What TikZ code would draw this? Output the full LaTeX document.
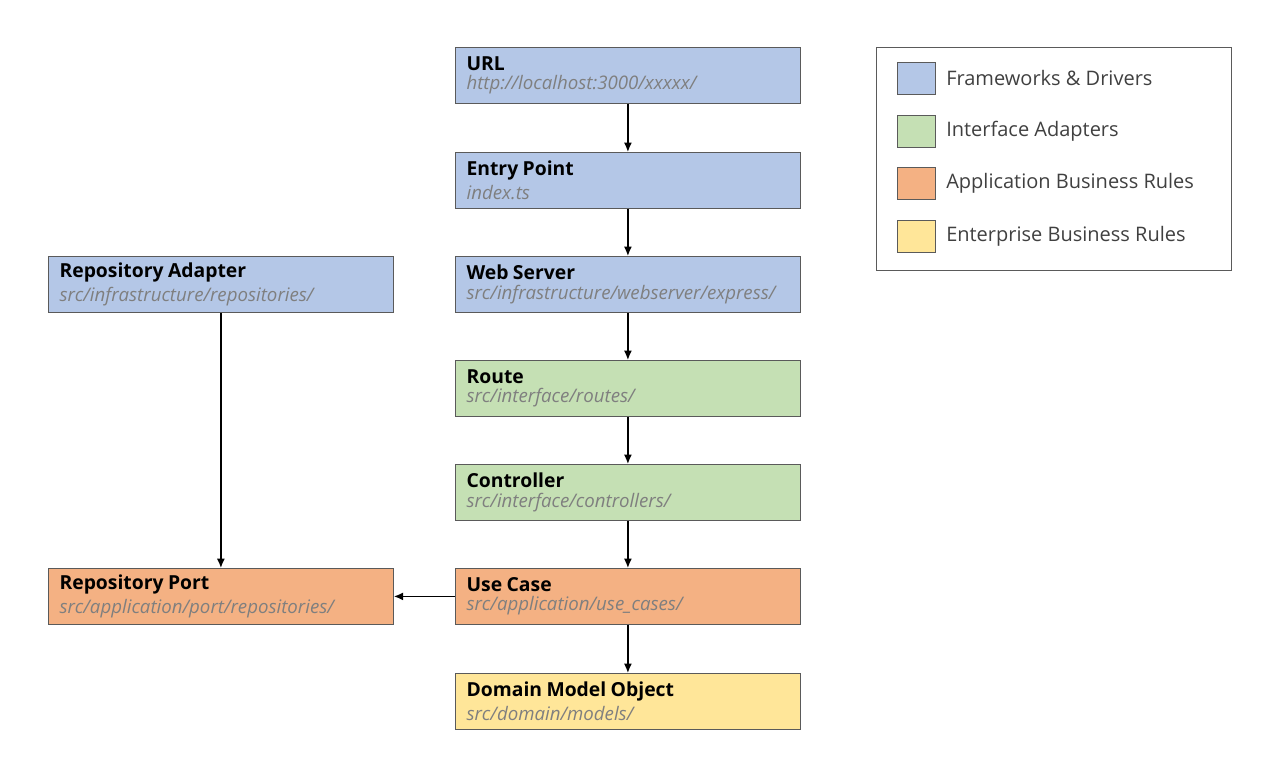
\documentclass[tikz,border=0pt]{standalone}
\usepackage{fontspec}
\setmainfont{Open Sans}
\usetikzlibrary{arrows.meta}
\definecolor{fwblue}{HTML}{B4C7E7}
\definecolor{iagreen}{HTML}{C5E0B4}
\definecolor{aborange}{HTML}{F4B183}
\definecolor{ebyellow}{HTML}{FFE699}
\definecolor{edgegray}{HTML}{5A5A5A}
\definecolor{subgray}{HTML}{7F7F7F}
\definecolor{keygray}{HTML}{404040}
\newcommand{\layertext}[2]{{\fontsize{14.5}{16}\selectfont\bfseries #1}\\[2.5pt]{\fontsize{14}{14}\selectfont\itshape\color{subgray}#2}}
\begin{document}
\begin{tikzpicture}[x=0.75pt, y=-0.75pt,
    layer/.style={shape=rectangle, draw=edgegray, line width=0.6pt, anchor=north west, minimum width=258.75pt, minimum height=42pt, text width=242pt, inner xsep=8pt, align=left},
    swatch/.style={shape=rectangle, draw=edgegray, line width=0.6pt, anchor=west, minimum width=28.5pt, minimum height=24pt},
    keytext/.style={anchor=west, inner sep=0pt, text=keygray, font=\fontsize{15}{16}\selectfont},
    flow/.style={-{Latex[length=7pt, width=6pt]}, line width=1.1pt}]
    \useasboundingbox (0,0) rectangle (1280,761);
    % Paths, nodes and wires:
    \node[layer, fill=fwblue] (url) at (455,47) {\layertext{URL}{http://localhost:3000/xxxxx/}};
    \node[layer, fill=fwblue] (entry) at (455,152) {\layertext{Entry Point}{index.ts}};
    \node[layer, fill=fwblue] (webserver) at (455,256) {\layertext{Web Server}{src/infrastructure/webserver/express/}};
    \node[layer, fill=iagreen] (route) at (455,360) {\layertext{Route}{src/interface/routes/}};
    \node[layer, fill=iagreen] (controller) at (455,464) {\layertext{Controller}{src/interface/controllers/}};
    \node[layer, fill=aborange] (usecase) at (455,568) {\layertext{Use Case}{src/application/use\_cases/}};
    \node[layer, fill=ebyellow] (domain) at (455,673) {\layertext{Domain Model Object}{src/domain/models/}};
    \node[layer, fill=fwblue] (repoadapter) at (48,256) {\layertext{Repository Adapter}{src/infrastructure/repositories/}};
    \node[layer, fill=aborange] (repoport) at (48,568) {\layertext{Repository Port}{src/application/port/repositories/}};
    \draw[flow] (url) -- (entry);
    \draw[flow] (entry) -- (webserver);
    \draw[flow] (webserver) -- (route);
    \draw[flow] (route) -- (controller);
    \draw[flow] (controller) -- (usecase);
    \draw[flow] (usecase) -- (domain);
    \draw[flow] (usecase) -- (repoport);
    \draw[flow] (repoadapter) -- (repoport);
    % Legend:
    \node[shape=rectangle, draw=edgegray, line width=0.6pt, anchor=north west, minimum width=266.25pt, minimum height=167.25pt] (legend) at (876,47) {};
    \node[swatch, fill=fwblue] (keyfw) at (897,78) {};
    \node[swatch, fill=iagreen] (keyia) at (897,131) {};
    \node[swatch, fill=aborange] (keyab) at (897,183) {};
    \node[swatch, fill=ebyellow] (keyeb) at (897,236) {};
    \node[keytext] (labelfw) at (946,78) {Frameworks \& Drivers};
    \node[keytext] (labelia) at (946,131) {Interface Adapters};
    \node[keytext] (labelab) at (946,183) {Application Business Rules};
    \node[keytext] (labeleb) at (946,236) {Enterprise Business Rules};
\end{tikzpicture}
\end{document}
